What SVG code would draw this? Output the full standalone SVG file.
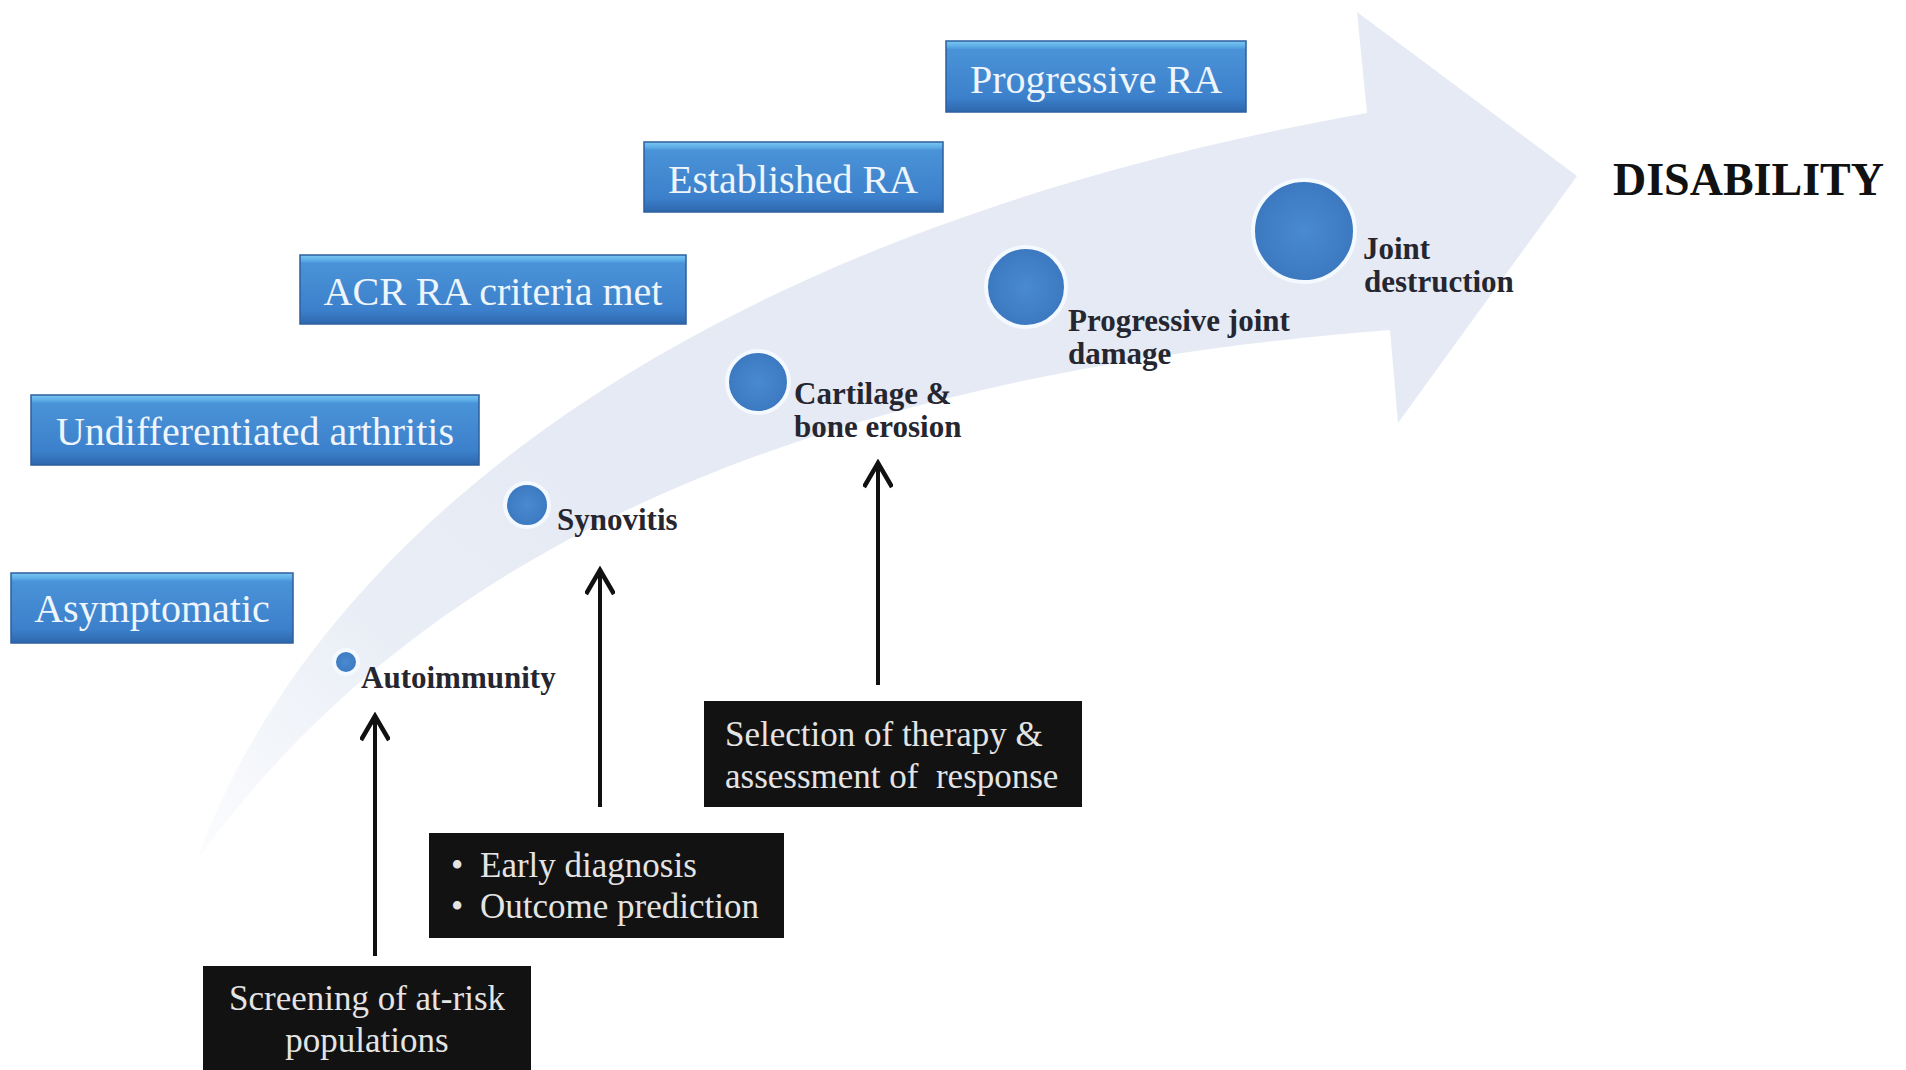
<svg xmlns="http://www.w3.org/2000/svg" width="1906" height="1070" viewBox="0 0 1906 1070">
<defs>
<linearGradient id="bandGrad" gradientUnits="userSpaceOnUse" x1="197" y1="860" x2="560" y2="470">
<stop offset="0" stop-color="#e4eaf4" stop-opacity="0.12"/>
<stop offset="0.55" stop-color="#e4eaf4" stop-opacity="0.8"/>
<stop offset="1" stop-color="#e5eaf4" stop-opacity="1"/>
</linearGradient>
<linearGradient id="boxGrad" x1="0" y1="0" x2="0" y2="1">
<stop offset="0" stop-color="#7cc6f2"/>
<stop offset="0.07" stop-color="#5fb0e8"/>
<stop offset="0.12" stop-color="#4a93d8"/>
<stop offset="0.8" stop-color="#3c80cb"/>
<stop offset="1" stop-color="#2d67ad"/>
</linearGradient>
<radialGradient id="dotGrad" cx="0.5" cy="0.5" r="0.5">
<stop offset="0" stop-color="#4a8ad0"/>
<stop offset="1" stop-color="#3b78c0"/>
</radialGradient>
<marker id="chev" viewBox="0 0 30 30" refX="26" refY="15" markerWidth="30" markerHeight="30" markerUnits="userSpaceOnUse" orient="auto">
<path d="M2 1 L26 15 L2 29" fill="none" stroke="#111" stroke-width="4.5" stroke-linejoin="miter"/>
</marker>
</defs>
<style>
.stage rect{fill:url(#boxGrad);stroke:#2c5f9e;stroke-width:1.5}
.stage text{font-family:"Liberation Serif","Times New Roman",serif;font-size:40px;fill:#eef5fc;text-anchor:middle}
.dark rect{fill:#121212}
.dark text{font-family:"Liberation Serif","Times New Roman",serif;font-size:35px;fill:#e4e4e4}
.lbl text{font-family:"Liberation Serif","Times New Roman",serif;font-size:31px;font-weight:bold;fill:#262630}
.dot{fill:url(#dotGrad);stroke:#f4f9ff;stroke-width:4}
.conn line{stroke:#111;stroke-width:4}
</style>
<rect width="1906" height="1070" fill="#ffffff"/>

<g id="progress-arrow">
<path d="M197 860 C290 600 600 250 1367 113 L1357 12 L1577 176 L1398 423 L1390 330 C750 380 400 580 197 860 Z" fill="url(#bandGrad)"/>
</g>

<g id="stage-asymptomatic" class="stage"><rect x="11" y="573" width="282" height="70"/><text x="152" y="622">Asymptomatic</text></g>
<g id="stage-undifferentiated" class="stage"><rect x="31" y="395" width="448" height="70"/><text x="255" y="445">Undifferentiated arthritis</text></g>
<g id="stage-acr" class="stage"><rect x="300" y="255" width="386" height="69"/><text x="493" y="305">ACR RA criteria met</text></g>
<g id="stage-established" class="stage"><rect x="644" y="142" width="299" height="70"/><text x="793" y="193">Established RA</text></g>
<g id="stage-progressive" class="stage"><rect x="946" y="41" width="300" height="71"/><text x="1096" y="93">Progressive RA</text></g>

<g id="node-autoimmunity" class="lbl"><circle class="dot" cx="346" cy="662" r="12"/><text x="361" y="688">Autoimmunity</text></g>
<g id="node-synovitis" class="lbl"><circle class="dot" cx="527" cy="505" r="22"/><text x="557" y="530">Synovitis</text></g>
<g id="node-cartilage" class="lbl"><circle class="dot" cx="758" cy="382" r="31"/><text x="794" y="404">Cartilage &amp;</text><text x="794" y="437">bone erosion</text></g>
<g id="node-progressive-damage" class="lbl"><circle class="dot" cx="1026" cy="287" r="40"/><text x="1068" y="331">Progressive joint</text><text x="1068" y="364">damage</text></g>
<g id="node-joint-destruction" class="lbl"><circle class="dot" cx="1304" cy="231" r="51"/><text x="1363" y="259">Joint</text><text x="1364" y="292">destruction</text></g>

<g id="node-disability"><text x="1613" y="195" style="font-family:'Liberation Serif','Times New Roman',serif;font-size:46px;font-weight:bold;fill:#111">DISABILITY</text></g>

<g id="box-screening" class="dark"><rect x="203" y="966" width="328" height="110"/><text x="367" y="1010" text-anchor="middle">Screening of at-risk</text><text x="367" y="1052" text-anchor="middle">populations</text></g>
<g id="box-diagnosis" class="dark"><rect x="429" y="833" width="355" height="105"/><text x="451" y="877">•</text><text x="480" y="877">Early diagnosis</text><text x="451" y="918">•</text><text x="480" y="918">Outcome prediction</text></g>
<g id="box-therapy" class="dark"><rect x="704" y="701" width="378" height="106"/><text x="725" y="746">Selection of therapy &amp;</text><text x="725" y="788" xml:space="preserve">assessment of  response</text></g>

<g id="connectors" class="conn">
<line x1="375" y1="956" x2="375" y2="716" marker-end="url(#chev)"/>
<line x1="600" y1="807" x2="600" y2="570" marker-end="url(#chev)"/>
<line x1="878" y1="685" x2="878" y2="463" marker-end="url(#chev)"/>
</g>
</svg>
